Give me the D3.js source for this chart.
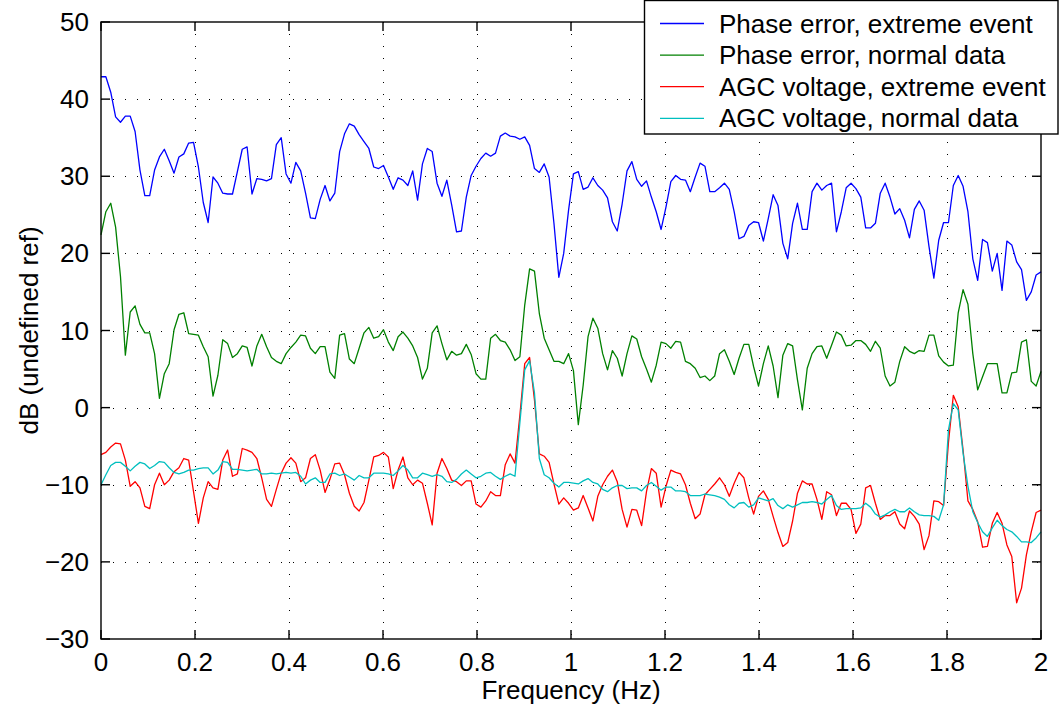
<!DOCTYPE html>
<html><head><meta charset="utf-8">
<script src="https://cdn.jsdelivr.net/npm/d3@7"></script>
<style>body{margin:0;background:#fff}svg{display:block}text{font-family:"Liberation Sans",Arial,Helvetica,sans-serif;fill:#000}</style>
</head><body><svg id="c" width="1061" height="708"></svg>
<script>
const freqStep = 2/193;
const xTicks = [0,0.2,0.4,0.6,0.8,1,1.2,1.4,1.6,1.8,2];
const yTicks = [-30,-20,-10,0,10,20,30,40,50];
const seriesNames = ["Phase error, extreme event","Phase error, normal data","AGC voltage, extreme event","AGC voltage, normal data"];
const seriesColors = ["#0000ff","#008000","#ff0000","#00bfbf"];
const phaseExtreme = [42.9,42.9,40.9,37.7,37.0,37.8,37.8,35.8,30.8,27.5,27.5,30.8,32.5,33.5,32.0,30.4,32.5,32.9,34.3,34.4,31.2,26.6,24.0,29.9,29.1,27.8,27.7,27.7,30.6,33.5,33.8,27.7,29.7,29.6,29.4,29.7,34.1,35.0,30.3,29.1,31.8,30.7,27.8,24.6,24.5,27.0,28.8,26.8,27.8,33.2,35.5,36.8,36.5,35.4,34.5,33.6,31.2,31.0,31.4,29.9,28.3,29.8,29.5,28.8,30.7,26.9,31.6,33.6,33.2,29.1,27.4,29.5,26.3,22.8,22.9,27.3,30.1,31.3,32.3,33.0,32.6,33.0,35.2,35.6,35.2,35.1,34.8,35.1,34.0,31.0,30.5,31.6,29.9,23.9,16.9,20.0,25.6,30.3,30.6,28.3,28.6,29.8,28.8,28.2,27.2,24.1,22.9,26.4,30.7,31.9,29.6,28.7,29.4,27.3,25.4,23.1,26.0,29.3,30.1,29.6,29.5,28.0,29.9,31.7,31.3,28.0,28.0,28.5,29.1,28.3,25.4,21.9,22.2,23.6,24.1,24.0,21.6,24.5,27.6,26.2,21.3,19.3,23.9,26.5,23.1,23.1,28.0,29.1,28.2,28.8,29.1,22.8,25.4,28.5,29.1,28.4,27.3,23.3,23.3,23.9,27.8,29.1,27.3,25.1,25.8,24.3,22.0,25.7,26.8,25.6,20.9,16.8,21.7,24.0,24.0,28.8,30.1,28.7,25.4,19.3,16.5,21.8,21.4,17.7,20.0,15.2,21.6,21.1,18.9,17.9,13.9,15.0,17.2,17.6];
const phaseNormal = [22.4,25.4,26.5,23.4,17.0,6.8,12.4,13.2,10.8,9.7,9.7,7.0,1.2,4.4,5.7,10.1,12.1,12.3,9.6,9.5,9.4,7.9,6.6,1.5,4.2,8.8,8.3,6.5,7.0,8.0,7.8,5.4,8.0,9.5,7.9,6.5,6.0,5.7,7.0,7.8,8.5,9.4,9.3,7.7,7.0,7.9,7.9,4.6,3.8,9.4,9.6,6.3,5.7,7.7,9.7,10.4,9.0,9.2,10.1,8.5,7.4,9.2,9.8,9.0,8.0,6.5,3.7,5.1,9.7,10.6,8.3,6.2,7.3,6.8,7.0,8.2,6.9,4.4,3.7,3.7,9.0,9.5,8.7,8.5,7.5,6.1,6.6,13.3,18.0,17.7,12.2,9.0,7.5,6.0,6.0,5.7,7.0,4.8,-2.2,2.9,9.2,11.6,10.3,7.0,4.9,7.4,6.4,4.1,7.0,9.3,8.9,6.6,5.0,3.3,5.5,8.5,8.3,7.7,8.6,8.5,6.0,5.7,5.1,3.9,4.1,3.5,4.1,7.0,7.5,6.0,4.3,6.4,8.2,8.2,5.3,2.8,5.7,8.0,5.4,1.3,6.8,8.3,8.0,3.6,-0.3,5.1,7.0,7.9,8.0,6.4,8.1,9.8,9.4,8.0,8.1,8.7,8.7,8.2,7.3,8.6,7.7,4.1,2.8,3.3,6.0,7.9,7.3,7.0,7.4,7.3,9.4,9.4,6.7,5.9,5.4,5.5,12.3,15.3,13.4,7.0,2.3,4.0,5.7,5.7,5.7,1.9,1.9,4.5,4.6,8.5,8.8,3.4,2.8,4.7];
const agcExtreme = [-6.1,-5.8,-5.1,-4.6,-4.7,-6.8,-10.2,-9.6,-10.4,-12.8,-13.1,-10.0,-8.5,-10.0,-9.4,-8.3,-7.8,-6.6,-6.8,-10.9,-15.0,-11.7,-9.6,-10.4,-10.6,-6.8,-5.5,-8.9,-8.6,-5.3,-5.5,-5.8,-6.6,-9.1,-11.9,-12.8,-10.6,-8.5,-7.2,-6.5,-7.2,-9.6,-9.1,-6.6,-6.1,-8.1,-11.0,-9.3,-7.3,-7.2,-8.7,-11.1,-12.8,-13.4,-12.3,-9.4,-6.4,-6.2,-5.8,-6.4,-10.5,-8.1,-6.4,-9.1,-10.0,-9.4,-9.8,-12.4,-15.2,-8.5,-6.6,-7.9,-9.4,-9.6,-10.1,-9.5,-9.5,-12.5,-12.9,-12.1,-10.9,-11.4,-11.4,-7.4,-6.0,-7.2,-1.0,5.7,6.5,1.0,-6.0,-6.3,-7.1,-9.9,-12.5,-11.7,-12.4,-13.3,-13.0,-11.4,-13.0,-14.7,-11.5,-10.0,-8.9,-8.1,-9.6,-13.2,-15.5,-13.2,-13.3,-15.3,-10.9,-7.9,-8.5,-12.9,-10.2,-8.1,-8.4,-8.6,-10.0,-12.4,-14.4,-13.8,-11.3,-10.6,-9.9,-9.1,-10.0,-11.5,-9.8,-8.4,-9.1,-11.7,-13.8,-11.5,-10.8,-11.9,-14.1,-16.2,-18.0,-17.5,-14.7,-11.1,-9.5,-9.9,-9.9,-11.9,-14.5,-10.9,-11.3,-14.0,-12.4,-12.4,-13.2,-16.3,-15.1,-10.4,-10.1,-12.4,-14.5,-14.0,-14.0,-13.5,-15.1,-15.7,-13.4,-14.1,-15.1,-18.4,-16.6,-12.1,-12.2,-12.7,-4.5,1.6,0.1,-5.5,-12.1,-13.2,-14.8,-18.1,-18.0,-15.0,-13.6,-15.0,-17.8,-19.3,-25.3,-23.4,-19.1,-16.1,-13.6,-13.3];
const agcNormal = [-10.0,-8.7,-7.5,-7.1,-7.1,-7.6,-8.2,-7.6,-7.1,-7.3,-7.9,-7.5,-7.0,-7.1,-7.8,-8.4,-8.6,-8.4,-8.1,-8.1,-7.9,-7.8,-7.8,-8.6,-8.1,-7.0,-7.1,-8.0,-8.0,-8.1,-8.2,-8.1,-8.0,-8.6,-8.6,-8.5,-8.6,-8.5,-8.4,-8.5,-8.4,-8.9,-9.9,-9.4,-9.1,-9.7,-9.7,-8.6,-8.5,-8.8,-8.6,-9.0,-9.4,-8.8,-9.1,-9.1,-8.5,-8.5,-8.5,-8.6,-8.8,-8.2,-7.5,-8.1,-9.1,-9.1,-8.5,-8.7,-8.9,-8.7,-8.9,-9.6,-9.7,-9.3,-8.6,-8.1,-8.6,-9.1,-8.9,-8.5,-8.4,-8.9,-9.3,-8.9,-8.6,-8.9,-2.0,4.9,6.1,1.9,-6.6,-8.7,-9.1,-9.8,-10.3,-9.7,-9.7,-9.8,-9.9,-9.5,-9.2,-9.7,-9.9,-10.6,-10.9,-10.4,-10.1,-10.1,-10.5,-10.4,-10.4,-10.8,-10.1,-9.7,-10.2,-10.7,-10.3,-10.3,-10.8,-10.8,-10.9,-11.4,-11.4,-11.4,-11.2,-11.3,-11.4,-11.6,-11.9,-12.6,-13.0,-12.4,-12.3,-12.9,-12.6,-11.7,-11.9,-12.1,-11.8,-12.7,-13.1,-12.6,-12.9,-12.6,-12.3,-12.3,-12.2,-12.3,-12.5,-11.9,-11.4,-12.7,-13.2,-13.1,-13.1,-13.1,-13.0,-12.4,-12.9,-13.8,-14.2,-13.9,-13.5,-13.2,-13.5,-13.5,-13.0,-13.5,-13.9,-14.0,-14.0,-14.1,-14.6,-12.6,-2.9,0.5,-0.3,-5.9,-10.2,-13.5,-14.9,-16.1,-16.7,-15.6,-14.6,-15.3,-15.8,-16.1,-16.7,-17.4,-17.4,-17.5,-16.9,-16.1];
const allSeries = [phaseExtreme, phaseNormal, agcExtreme, agcNormal];

const svg = d3.select("#c");
svg.append("rect").attr("width",1061).attr("height",708).attr("fill","#fff");
const L=101, R=1041, T=22, B=639;
const x = d3.scaleLinear().domain([0,2]).range([L,R]);
const y = d3.scaleLinear().domain([-30,50]).range([B,T]);
const font = 26;

// grid
const g = svg.append("g");
g.selectAll(".gx").data(xTicks.slice(1,-1)).join("line")
  .attr("x1",d=>Math.round(x(d))+0.5).attr("x2",d=>Math.round(x(d))+0.5).attr("y1",T).attr("y2",B)
  .attr("stroke","#000").attr("stroke-width",1).attr("stroke-dasharray","1,11");
g.selectAll(".gy").data(yTicks.slice(1,-1)).join("line")
  .attr("y1",d=>Math.round(y(d))+0.5).attr("y2",d=>Math.round(y(d))+0.5).attr("x1",L).attr("x2",R)
  .attr("stroke","#000").attr("stroke-width",1).attr("stroke-dasharray","1,11");

// lines
const line = d3.line().x((d,i)=>x(i*freqStep)).y(d=>y(d));
allSeries.forEach((s,k)=>{
  svg.append("path").datum(s).attr("d",line).attr("fill","none")
    .attr("stroke",seriesColors[k]).attr("stroke-width",1.3).attr("stroke-linejoin","round");
});

// box and ticks
svg.append("rect").attr("x",L).attr("y",T).attr("width",R-L).attr("height",B-T)
  .attr("fill","none").attr("stroke","#000").attr("stroke-width",1.4);
const tk = svg.append("g").attr("stroke","#000").attr("stroke-width",1.4);
xTicks.forEach(d=>{
  const px = x(d);
  tk.append("line").attr("x1",px).attr("x2",px).attr("y1",B).attr("y2",B-9);
  tk.append("line").attr("x1",px).attr("x2",px).attr("y1",T).attr("y2",T+9);
});
yTicks.forEach(d=>{
  const py = y(d);
  tk.append("line").attr("x1",L).attr("x2",L+9).attr("y1",py).attr("y2",py);
  tk.append("line").attr("x1",R).attr("x2",R-9).attr("y1",py).attr("y2",py);
});

// tick labels
const fmt = d3.format("");
svg.selectAll(".xl").data(xTicks).join("text")
  .attr("x",d=>x(d)).attr("y",671).attr("text-anchor","middle").attr("font-size",font)
  .text(d=>fmt(d));
svg.selectAll(".yl").data(yTicks).join("text")
  .attr("x",L-12).attr("y",d=>y(d)).attr("dy","0.35em").attr("text-anchor","end").attr("font-size",font)
  .text(d=>fmt(d));

// axis titles
svg.append("text").attr("x",(L+R)/2).attr("y",699).attr("text-anchor","middle").attr("font-size",font)
  .text("Frequency (Hz)");
svg.append("text").attr("transform",`translate(38,${(T+B)/2}) rotate(-90)`).attr("text-anchor","middle")
  .attr("font-size",font).text("dB (undefined ref)");

// legend
const lg = svg.append("g");
lg.append("rect").attr("x",644.5).attr("y",0.5).attr("width",413.5).attr("height",133.5)
  .attr("fill","#fff").attr("stroke","#000").attr("stroke-width",1.4);
seriesNames.forEach((n,k)=>{
  const yy = 23.5 + k*31.6;
  lg.append("line").attr("x1",660).attr("x2",704).attr("y1",yy).attr("y2",yy)
    .attr("stroke",seriesColors[k]).attr("stroke-width",1.3);
  lg.append("text").attr("x",719).attr("y",yy).attr("dy","0.35em").attr("font-size",font).text(n);
});
</script></body></html>
